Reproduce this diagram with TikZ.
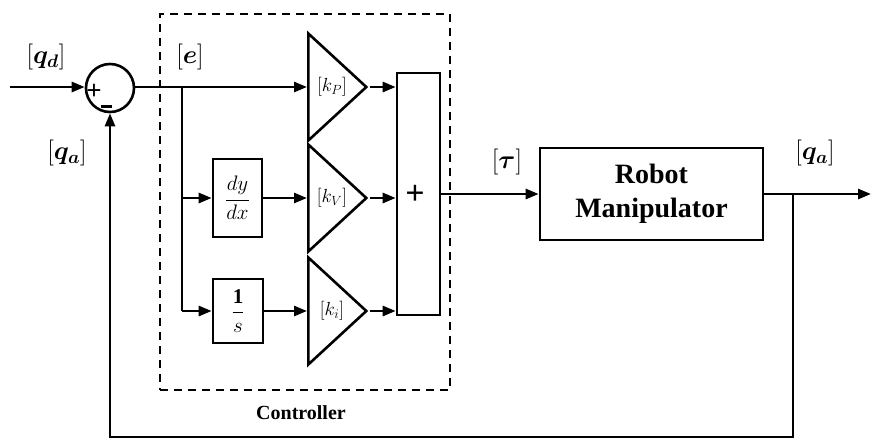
\RequirePackage{fix-cm}
\documentclass[tikz,border=0pt]{standalone}
\usepackage{amsmath,bm}
\usepackage{fontspec}
\setmainfont{Liberation Serif}
\usetikzlibrary{arrows.meta,shapes.geometric}
\begin{document}
\begin{tikzpicture}[x=1pt,y=-1pt, line width=2.6pt,
  arr/.style={-{Triangle[length=13pt,width=10pt]}},
  blk/.style={draw, rectangle, inner sep=0pt},
  gain/.style={draw, isosceles triangle, isosceles triangle stretches, inner sep=0pt,
    minimum width=107pt, minimum height=58pt, anchor=west},
  glab/.style={font=\fontsize{19}{21}\selectfont, inner sep=0pt},
  lab/.style={font=\fontsize{26}{28}\selectfont},
  sign/.style={font=\bfseries\fontsize{27}{27}\selectfont, inner sep=0pt}
]
\useasboundingbox (0,0) rectangle (872,440);

% controller frame
\node[draw, line width=2pt, dash pattern=on 8pt off 6pt, minimum width=290pt, minimum height=376pt, inner sep=0pt] (ctrl) at (305,202) {};
\node[font=\bfseries\fontsize{20}{22}\selectfont] (ctrllab) at (301,413) {Controller};

% summing junction
\node[draw, circle, minimum size=48pt, inner sep=0pt] (sum) at (110,88) {};
\node[sign] (plus) at (94,92) {+};
\node[sign] (minus) at (106,106) {\rule{11pt}{3pt}};

% blocks
\node[blk, minimum width=49pt, minimum height=78pt, font=\fontsize{21}{23}\selectfont] (deriv) at (237.5,198) {$\dfrac{dy}{dx}$};
\node[blk, minimum width=50pt, minimum height=64pt, font=\fontsize{21}{23}\selectfont] (integ) at (238,311) {$\dfrac{\mathbf{1}}{s}$};

\node[gain] (kp) at (307,87) {};
\node[gain] (kv) at (307,198) {};
\node[gain] (ki) at (307,311) {};
\node[glab] (kpl) at (332,87) {$[k_P]$};
\node[glab] (kvl) at (332,198) {$[k_V]$};
\node[glab] (kil) at (332,311) {$[k_i]$};

\node[blk, minimum width=43pt, minimum height=242pt] (add) at (418.5,194) {};
\node[font=\bfseries\fontsize{34}{34}\selectfont] (addsign) at (415,195) {+};

\node[blk, minimum width=223pt, minimum height=92pt, align=center,
  font=\bfseries\fontsize{28}{34}\selectfont] (robot) at (651.5,194) {Robot\\Manipulator};

% labels
\node[lab] (lqd) at (46,57) {$[\bm{q}_{\bm{d}}]$};
\node[lab] (lqa1) at (67,153) {$[\bm{q}_{\bm{a}}]$};
\node[lab] (le) at (190,57) {$[\bm{e}]$};
\node[lab] (ltau) at (507,162) {$[\bm{\tau}]$};
\node[lab] (lqa2) at (815,153) {$[\bm{q}_{\bm{a}}]$};

% coordinates
\coordinate (qin) at (10,87);
\coordinate (br) at (182,87);
\coordinate (bm) at (182,198);
\coordinate (bb) at (182,311);
\coordinate (tap) at (793,194);
\coordinate (out) at (871,194);
\coordinate (fb1) at (793,437);
\coordinate (fb2) at (110,437);

% connectors
\draw[arr] (qin) -- (qin -| sum.west);
\draw (sum.east |- br) -- (br) -- (bb);
\draw[arr] (br) -- (kp.west);
\draw[arr] (bm) -- (deriv.west);
\draw[arr] (bb) -- (integ.west);
\draw[arr] (deriv.east) -- (kv.west);
\draw[arr] (integ.east) -- (ki.west);
\draw[arr] (kp.east) -- (kp.east -| add.west);
\draw[arr] (kv.east) -- (kv.east -| add.west);
\draw[arr] (ki.east) -- (ki.east -| add.west);
\draw[arr] (add.east) -- (robot.west);
\draw[arr] (robot.east) -- (out);
\draw[arr] (tap) -- (fb1) -- (fb2) -- (sum.south);
\end{tikzpicture}
\end{document}
